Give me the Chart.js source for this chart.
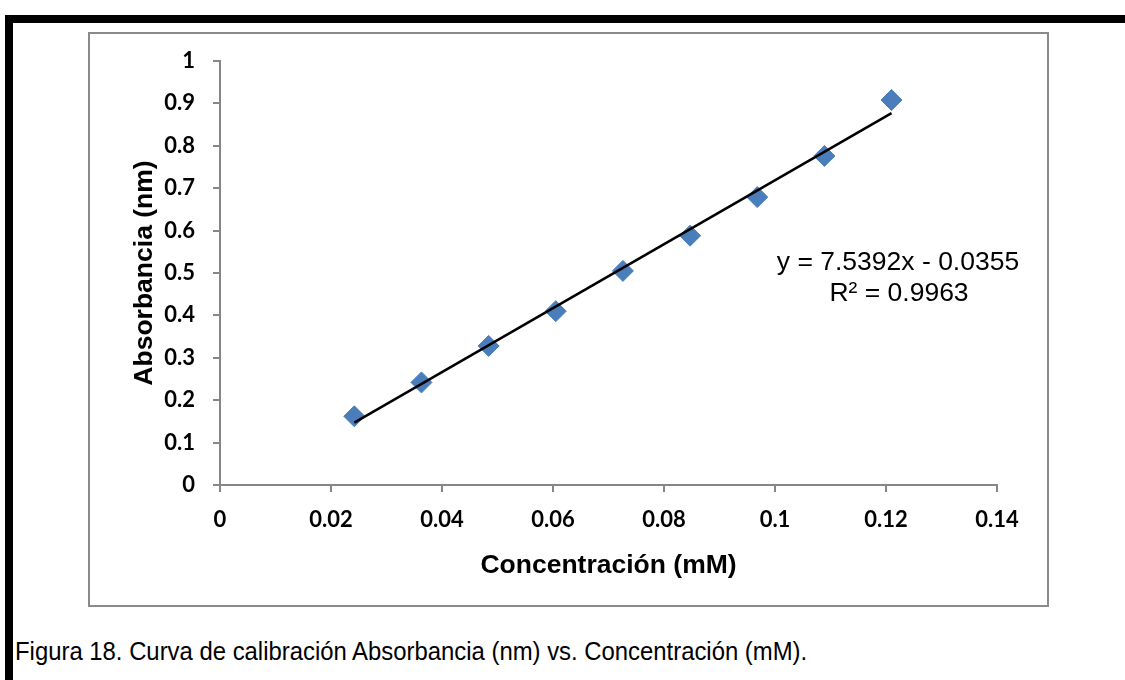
<!DOCTYPE html>
<html>
<head>
<meta charset="utf-8">
<script src="https://cdn.jsdelivr.net/npm/chart.js@4"></script>
<style>
  body { margin: 0; background: #fff; }
  #page { position: relative; width: 1125px; height: 680px; overflow: hidden; }
  .topBar { position: absolute; left: 5px; top: 15px; width: 1120px; height: 8px; background: #000; }
  .leftBar { position: absolute; left: 5px; top: 15px; width: 8px; height: 665px; background: #000; }
  .chartBox { position: absolute; left: 88px; top: 32px; width: 957px; height: 571px; border: 2px solid #8a8a8a; }
  .caption { position: absolute; left: 15px; top: 637px; font: 25px "Liberation Sans", Arial, sans-serif; color: #000; white-space: nowrap; transform: scaleX(0.955); transform-origin: left top; }
  #myChart { position: absolute; left: 0; top: 0; }
</style>
</head>
<body>
<div id="page">
  <div class="topBar"></div>
  <div class="leftBar"></div>
  <div class="chartBox"></div>
  <div class="caption">Figura 18. Curva de calibración Absorbancia (nm) vs. Concentración (mM).</div>
  <canvas id="myChart" width="1125" height="680"></canvas>
</div>
<script>
const ctx = document.getElementById('myChart');

// calibration points
let concentration = [0.0242, 0.0363, 0.0484, 0.0605, 0.0726, 0.0847, 0.0968, 0.1089, 0.121]
let absorbance = [0.162, 0.242, 0.328, 0.41, 0.505, 0.588, 0.679, 0.776, 0.908]

// linear trendline ends (as drawn in the figure)
let trendX = [0.0242, 0.121]
let trendY = [0.147, 0.877]

let equationLines = ['y = 7.5392x - 0.0355', 'R² = 0.9963']

let pointData = concentration.map((c, i) => ({x: c, y: absorbance[i]}))
let trendData = trendX.map((c, i) => ({x: c, y: trendY[i]}))

const axisGray = '#868686'
const tickFont = {family: 'Lato', size: 22, weight: 'bold'}
const titleFont = {family: '"Liberation Sans", Arial', size: 26.5, weight: 'bold'}

// equation label next to the trendline
const equationPlugin = {
  id: 'equation',
  afterDraw(chart) {
    const c = chart.ctx
    c.save()
    c.font = '26.5px "Liberation Sans", Arial, sans-serif'
    c.fillStyle = '#000'
    c.textAlign = 'center'
    c.textBaseline = 'middle'
    c.fillText(equationLines[0], 898, 263)
    c.fillText(equationLines[1], 899, 294)
    c.restore()
  }
}

new Chart(ctx, {
  type: 'scatter',
  data: {
    datasets: [{
      data: trendData,
      showLine: true,
      borderColor: '#000',
      borderWidth: 2.5,
      pointRadius: 0,
      pointHoverRadius: 0
    }, {
      data: pointData,
      pointStyle: 'rectRot',
      pointRadius: 10.5,
      pointHoverRadius: 10.5,
      backgroundColor: '#4A7EBB',
      borderColor: '#4A7EBB',
      borderWidth: 1
    }]
  },
  options: {
    responsive: false,
    animation: false,
    events: [],
    layout: {
      padding: {left: 90, top: 61, right: 128, bottom: 95}
    },
    scales: {
      x: {
        type: 'linear',
        min: 0,
        max: 0.14,
        afterFit(scale) { scale.height = 100 },
        ticks: {
          stepSize: 0.02,
          color: '#000',
          font: tickFont,
          padding: 15,
          callback: (v) => parseFloat(v.toFixed(2)).toString()
        },
        grid: {
          drawOnChartArea: false,
          color: axisGray,
          lineWidth: 2,
          tickLength: 7
        },
        border: {color: axisGray, width: 2},
        title: {
          display: true,
          text: 'Concentración (mM)',
          color: '#000',
          font: titleFont,
          padding: {top: 0, bottom: 3}
        }
      },
      y: {
        min: 0,
        max: 1,
        afterFit(scale) { scale.width = 130 },
        ticks: {
          stepSize: 0.1,
          color: '#000',
          font: tickFont,
          padding: 18,
          callback: (v) => parseFloat(v.toFixed(1)).toString()
        },
        grid: {
          drawOnChartArea: false,
          color: axisGray,
          lineWidth: 2,
          tickLength: 7
        },
        border: {color: axisGray, width: 2},
        title: {
          display: true,
          text: 'Absorbancia (nm)',
          color: '#000',
          font: titleFont,
          padding: {top: 39, bottom: 0}
        }
      }
    },
    plugins: {
      legend: {display: false},
      tooltip: {enabled: false}
    }
  },
  plugins: [equationPlugin]
});
</script>
</body>
</html>
